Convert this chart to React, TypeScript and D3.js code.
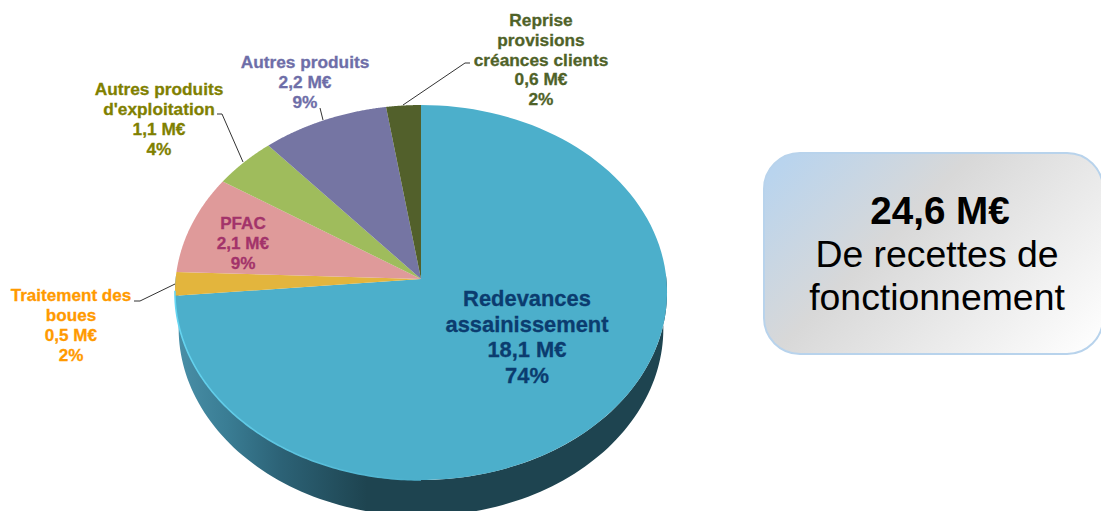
import React from "react";
import * as d3 from "d3";

const categories = ["Redevances assainissement", "Traitement des boues", "PFAC", "Autres produits d'exploitation", "Autres produits", "Reprise provisions créances clients"];
const values = [18.1, 0.5, 2.1, 1.1, 2.2, 0.6];
const amountLabels = ["18,1 M€", "0,5 M€", "2,1 M€", "1,1 M€", "2,2 M€", "0,6 M€"];
const percentLabels = ["74%", "2%", "9%", "4%", "9%", "2%"];
const nameLines = [["Redevances", "assainissement"], ["Traitement des", "boues"], ["PFAC"], ["Autres produits", "d'exploitation"], ["Autres produits"], ["Reprise", "provisions", "créances clients"]];
const sliceColors = ["#4cafcb", "#e3b53d", "#df9a9a", "#9fbc5c", "#7575a3", "#52602b"];
const textColors = ["#0b3c6f", "#ff9a00", "#a3336a", "#808000", "#6e6ea8", "#4f6228"];

const W = 1101, H = 511;
const CX = 421, CY = 279, RX = 245.4, RY = 186.5, W_P = -0.072, DEPTH = 36, WALL_SCALE = 0.985;
const FONT = "'Liberation Sans', Arial, sans-serif";

// label anchor: centre x, first baseline, line pitch, size
const labelLayout = [
  { x: 527, y: 306, dy: 25.5, size: 21.9 },
  { x: 71, y: 301, dy: 20, size: 17.1 },
  { x: 243, y: 229, dy: 20, size: 17.1 },
  { x: 159, y: 95, dy: 20, size: 17.3 },
  { x: 305, y: 68, dy: 20, size: 17.3 },
  { x: 541, y: 26, dy: 19.8, size: 17.3 },
];
const leaders: [number, number][][] = [
  [],
  [[134, 301], [140, 301], [175, 284]],
  [],
  [[217, 114], [222, 114], [243, 162]],
  [[320, 108], [323, 120]],
  [[470, 63], [465, 63], [403, 105]],
];

// circle angle (clockwise from the top) projected with the tilt of the 3-D pie
const project = (a: number): [number, number] => {
  const u = -Math.cos(a), v = Math.sin(a), k = 1 + W_P * u;
  return [CX + (RX * v) / k, CY + (RY * u) / k];
};
const sweep = (a0: number, a1: number) =>
  d3.range(0, 121).map((i) => project(a0 + ((a1 - a0) * i) / 120));
const line = d3.line();

const arcs = d3.pie<number>().sort(null)(values);
const TAU = Math.PI * 2;

export default function App() {
  const front = sweep(TAU * 0.245, TAU * 0.755);
  const shifted = front.map(([x, y]) => [CX + (x - CX) * WALL_SCALE, y + DEPTH] as [number, number]);
  const wall = line([...front, ...shifted.slice().reverse()]) + "Z";
  const rim = line(sweep(TAU * 0.5, TAU * 0.74))!;
  const boxLines = ["De recettes de", "fonctionnement"];
  return (
    <svg width={W} height={H} viewBox={`0 0 ${W} ${H}`} style={{ position: "absolute", left: 0, top: 0, background: "#fff" }}>
      <defs>
        <linearGradient id="wall" gradientUnits="userSpaceOnUse" x1={175} x2={667} y1={0} y2={0}>
          <stop offset="0" stopColor="#4a90a8" />
          <stop offset="0.105" stopColor="#3a7d94" />
          <stop offset="0.215" stopColor="#2c6276" />
          <stop offset="0.39" stopColor="#1e4450" />
          <stop offset="1" stopColor="#1e4450" />
        </linearGradient>
        <linearGradient id="rim" gradientUnits="userSpaceOnUse" x1={175} x2={420} y1={300} y2={480}>
          <stop offset="0" stopColor="#66d6f2" />
          <stop offset="0.6" stopColor="#5cc4e0" />
          <stop offset="1" stopColor="#4cafcb" />
        </linearGradient>
        <linearGradient id="box" gradientUnits="userSpaceOnUse" x1={764} y1={181} x2={1016.5} y2={433.5}>
          <stop offset="0" stopColor="#b9d4ee" />
          <stop offset="0.36" stopColor="#d8d8d8" />
          <stop offset="1" stopColor="#ffffff" />
        </linearGradient>
      </defs>

      <path d={wall} fill="url(#wall)" />
      {arcs.map((a, i) => (
        <path
          key={categories[i]}
          d={line([[CX, CY], ...sweep(a.startAngle, a.endAngle)])! + "Z"}
          fill={sliceColors[i]}
        />
      ))}
      <path d={rim} fill="none" stroke="url(#rim)" strokeWidth={1.6} />

      {leaders.map((pts, i) =>
        pts.length ? <path key={i} d={line(pts)!} fill="none" stroke="#333" strokeWidth={1} /> : null
      )}

      {categories.map((c, i) => {
        const lines = [...nameLines[i], amountLabels[i], percentLabels[i]];
        const l = labelLayout[i];
        return (
          <text key={c} textAnchor="middle" fontFamily={FONT} fontWeight="bold" fontSize={l.size} fill={textColors[i]} stroke={textColors[i]} strokeWidth={0.3}>
            {lines.map((t, j) => (
              <tspan key={j} x={l.x} y={l.y + j * l.dy}>{t}</tspan>
            ))}
          </text>
        );
      })}

      <rect x={764} y={153} width={339} height={201} rx={36} ry={36} fill="url(#box)" stroke="#b8d3ec" strokeWidth={2} />
      <text x={940} y={224} textAnchor="middle" fontFamily={FONT} fontWeight="bold" fontSize={38.6} fill="#000">24,6 M€</text>
      {boxLines.map((t, i) => (
        <text key={t} x={937} y={267 + i * 43} textAnchor="middle" fontFamily={FONT} fontSize={37.4} fill="#000">{t}</text>
      ))}
    </svg>
  );
}
